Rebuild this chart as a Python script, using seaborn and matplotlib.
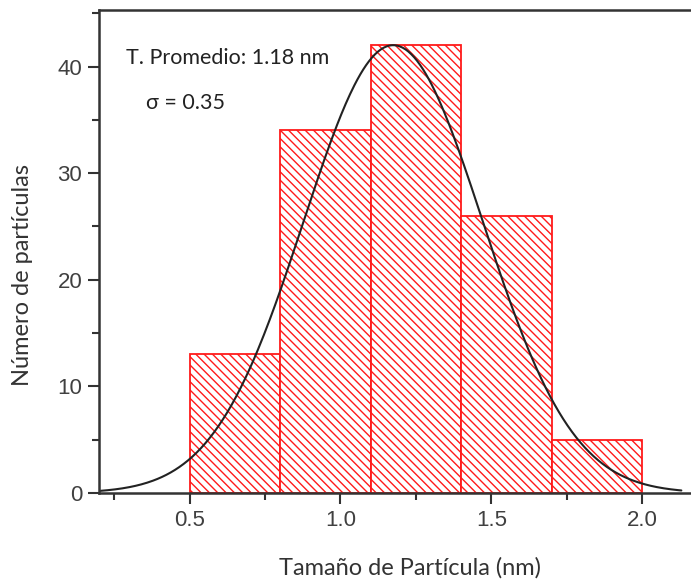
import numpy as np
import pandas as pd
import matplotlib
matplotlib.use("Agg")
import matplotlib.pyplot as plt
import seaborn as sns
from matplotlib.ticker import MultipleLocator

# ---- data ----
bin_edges = [0.5, 0.8, 1.1, 1.4, 1.7, 2.0]
bin_centers = [0.65, 0.95, 1.25, 1.55, 1.85]
counts = [13, 34, 42, 26, 5]

# fitted gaussian parameters
fit_mean = 1.175
fit_sigma = 0.297
fit_amp = 42.0
curve_range = [0.2, 2.13]

x_ticks = [0.5, 1.0, 1.5, 2.0]
x_tick_labels = ["0.5", "1.0", "1.5", "2.0"]
y_ticks = [0, 10, 20, 30, 40]

sns.set_style("ticks")
plt.rcParams["hatch.color"] = "#ff3030"
plt.rcParams["hatch.linewidth"] = 1.0

fig = plt.figure(figsize=(6.91, 5.82), dpi=100)
ax = fig.add_axes([99/691, 89/582, 592/691, 483/582])

df = pd.DataFrame({"size": bin_centers, "n": counts})
sns.histplot(data=df, x="size", weights="n", bins=bin_edges, ax=ax,
             stat="count", color="white", edgecolor="#ff1a1a", linewidth=1.3, alpha=1)
for p in ax.patches:
    p.set_facecolor("white")
    p.set_hatch("\\" * 4)
    p.set_edgecolor("#ff1a1a")

xc = np.linspace(curve_range[0], curve_range[1], 400)
yc = fit_amp * np.exp(-(xc - fit_mean) ** 2 / (2 * fit_sigma ** 2))
sns.lineplot(x=xc, y=yc, ax=ax, color="#222222", linewidth=1.5)

ax.set_xlim(0.2, 2.162)
ax.set_ylim(0, 45.3)
ax.set_xticks(x_ticks)
ax.set_yticks(y_ticks)
ax.xaxis.set_minor_locator(MultipleLocator(0.25))
ax.yaxis.set_minor_locator(MultipleLocator(5))
ax.set_xticklabels(x_tick_labels)

for s in ["left", "bottom", "top"]:
    ax.spines[s].set_linewidth(1.8)
    ax.spines[s].set_color("#333333")
ax.spines["right"].set_visible(False)

ax.tick_params(which="major", direction="out", length=8, width=1.5, color="#333333",
               labelsize=16, labelcolor="#404040", pad=4)
ax.tick_params(which="minor", direction="out", length=5, width=1.5, color="#333333")
ax.tick_params(axis="x", which="both", top=False)
for lab in ax.get_xticklabels() + ax.get_yticklabels():
    lab.set_fontfamily("Liberation Sans")

ax.set_xlabel("Tamaño de Partícula (nm)", fontsize=17, fontfamily="Lato", color="#333333")
ax.set_ylabel("Número de partículas", fontsize=17, fontfamily="Lato", color="#333333")
# label positions in axes-fraction coordinates
ax.xaxis.set_label_coords((410 - 99) / 592, -(568 - 493) / 483, transform=ax.transAxes)
ax.yaxis.set_label_coords(-(99 - 23) / 592, (493 - 275) / 483, transform=ax.transAxes)
ax.xaxis.label.set_va("center")
ax.yaxis.label.set_va("center")

ax.text(0.29, 40.8, "T. Promedio: 1.18 nm", fontsize=15.5, fontfamily="Lato", color="#222222", va="center")
ax.text(0.355, 36.6, "σ = 0.35", fontsize=15.5, fontfamily=["Lato", "DejaVu Sans"], color="#222222", va="center")

fig.savefig("out.png", dpi=100)
